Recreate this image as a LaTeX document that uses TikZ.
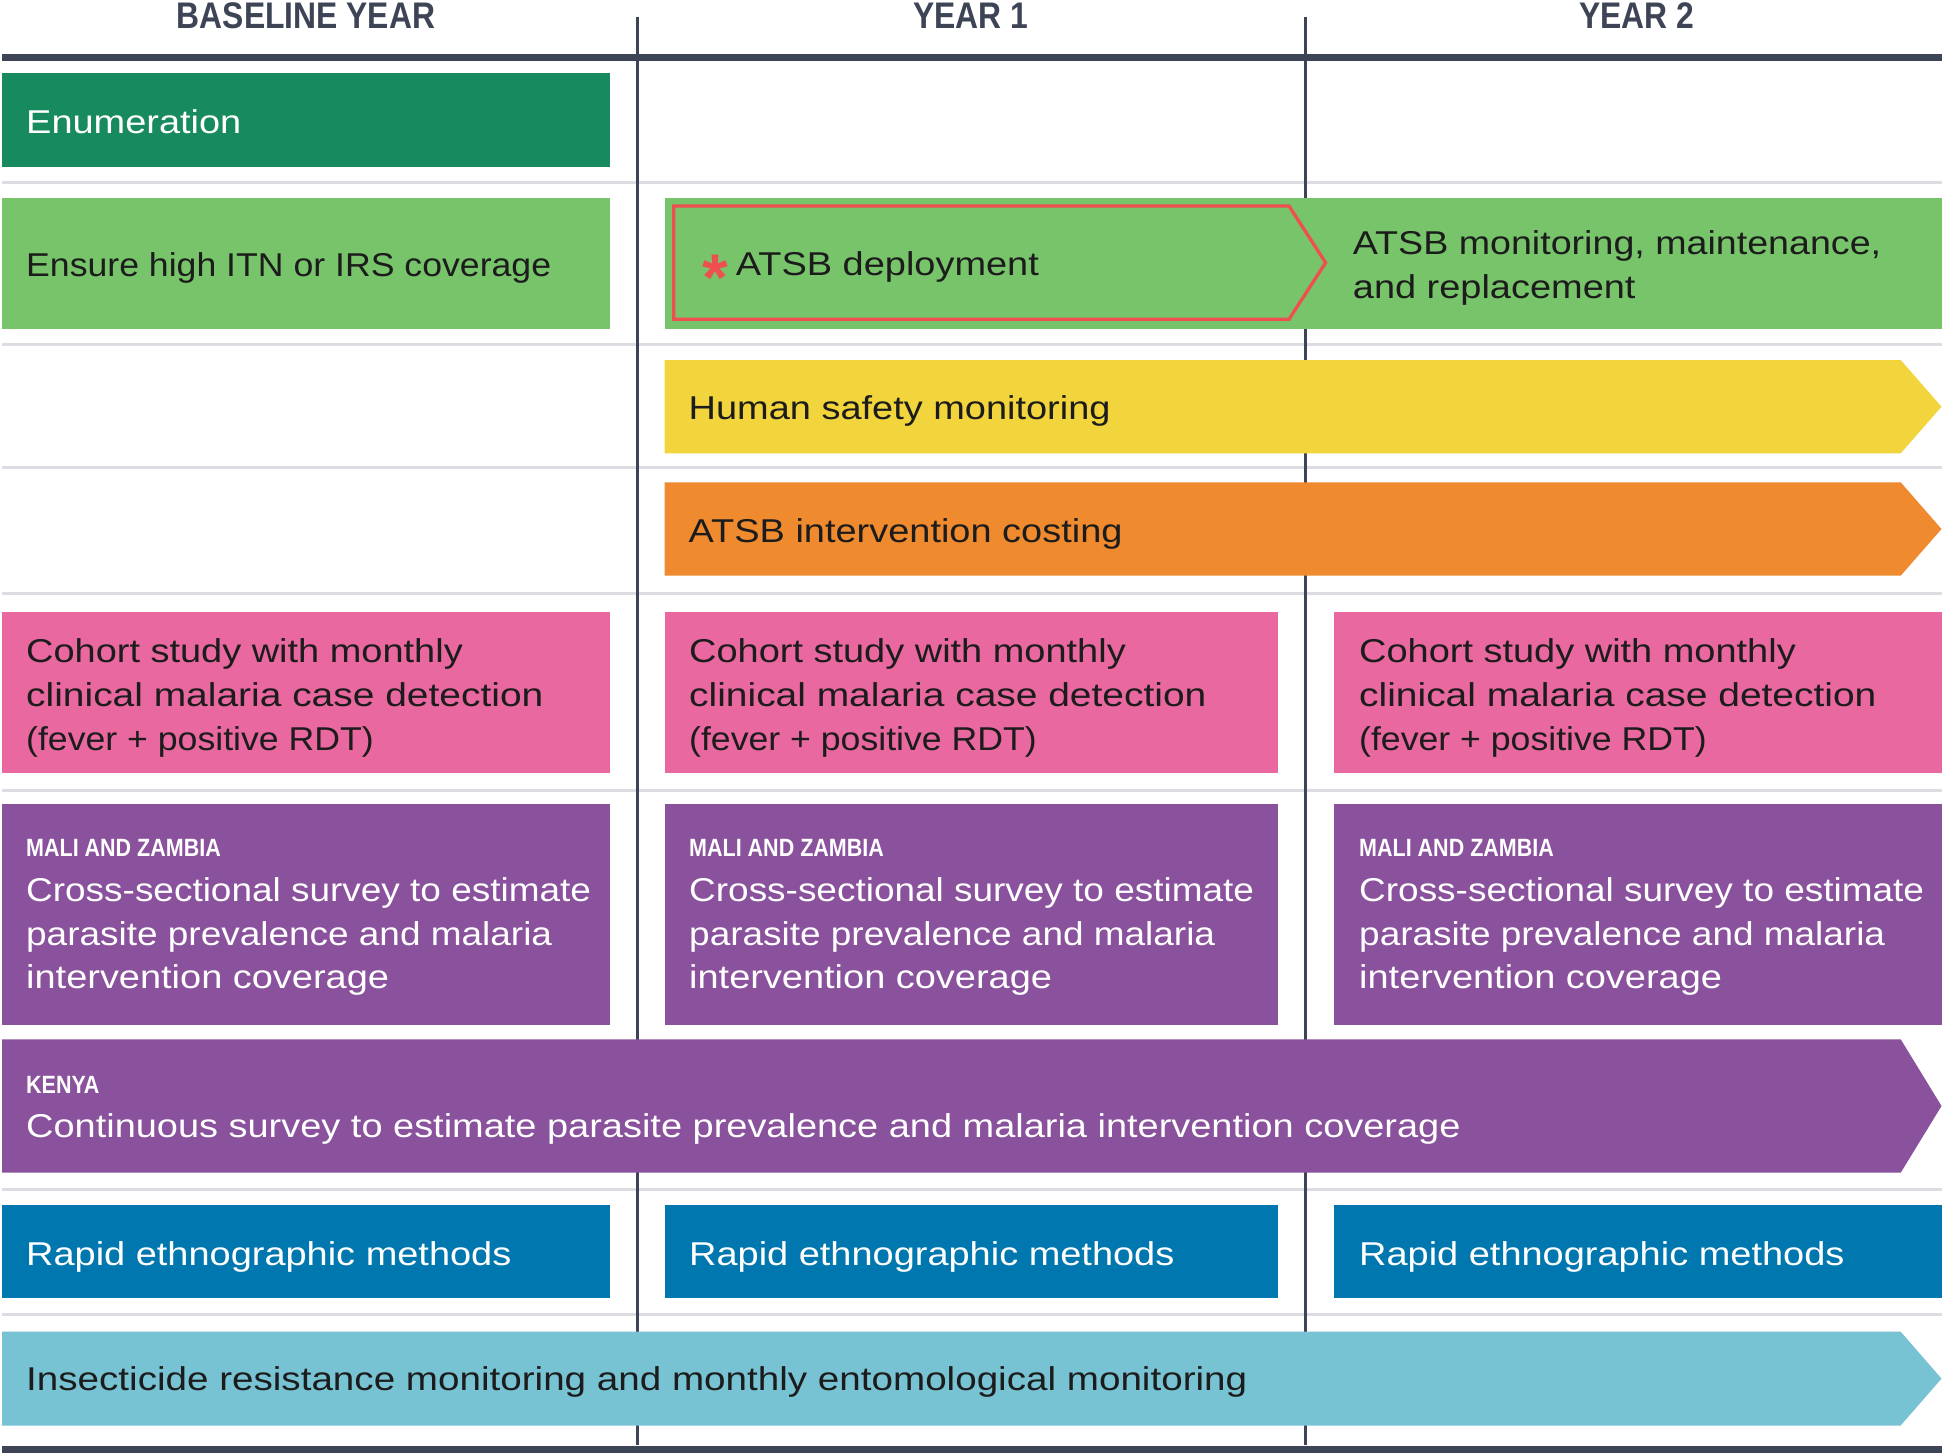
\documentclass[tikz,border=0pt]{standalone}
\usepackage{fontspec}
\setmainfont{Liberation Sans}[FakeStretch=1.15]
\newfontfamily\condfont{Liberation Sans}[FakeStretch=0.86]
\newfontfamily\plainfont{Liberation Sans}
\newfontfamily\fontN{Liberation Sans}[FakeStretch=1.08]
\newfontfamily\fontM{Liberation Sans}[FakeStretch=1.12]
\newfontfamily\fontS{Liberation Sans}[FakeStretch=1.14]
\newfontfamily\fontV{Liberation Sans}[FakeStretch=1.17]
\newfontfamily\fontW{Liberation Sans}[FakeStretch=1.18]
\definecolor{slate}{HTML}{3D4456}
\definecolor{sepgray}{HTML}{DCDDE2}
\definecolor{ink}{HTML}{1C1C1C}
\definecolor{dgreen}{HTML}{178A5E}
\definecolor{lgreen}{HTML}{78C46A}
\definecolor{atsbred}{HTML}{F04F50}
\definecolor{yel}{HTML}{F2D53C}
\definecolor{orng}{HTML}{F08A2F}
\definecolor{pink}{HTML}{E8689F}
\definecolor{purp}{HTML}{8A519C}
\definecolor{blu}{HTML}{0077AE}
\definecolor{lblu}{HTML}{78C3D3}
\newcommand\bodyfont{\fontsize{33}{44}\selectfont}
\newcommand\smallfont{\condfont\bfseries\fontsize{25}{28}\selectfont}
\begin{document}
\begin{tikzpicture}[x=1pt,y=-1pt,
  txt/.style={anchor=base west, inner sep=0pt, font=\bodyfont, text=ink},
  wtxt/.style={txt, text=white},
  smalltxt/.style={anchor=base west, inner sep=0pt, font=\smallfont, text=white},
  head/.style={anchor=base, inner sep=0pt, font=\condfont\bfseries\fontsize{37}{37}\selectfont, text=slate},
  sepline/.style={draw=sepgray, line width=3pt},
  vline/.style={draw=slate, line width=2.5pt},
  hline/.style={draw=slate, line width=7pt},
]
\useasboundingbox (0,0) rectangle (1944,1456);
\fill[white] (0,0) rectangle (1944,1456);

% separators
\foreach \yy in {182,344.3,467.3,593.3,790,1189,1314.3}
  \draw[sepline] (2,\yy) -- (1942,\yy);

% column dividers
\draw[vline] (637.5,16.7) -- (637.5,1445);
\draw[vline] (1305.5,16.7) -- (1305.5,1445);

% header and footer rules
\draw[hline] (2,57) -- (1942,57);
\draw[hline] (2,1449) -- (1942,1449);

% headers
\node[head] (h0) at (306,28.5) {BASELINE YEAR};
\node[head] (h1) at (971,28.5) {YEAR 1};
\node[head] (h2) at (1637,28.5) {YEAR 2};

% Enumeration
\fill[dgreen] (2.2,72.7) rectangle (609.5,166.7);
\node[wtxt] (enum) at (26,133) {Enumeration};

% ITN / ATSB row
\fill[lgreen] (2.2,197.5) rectangle (609.5,328.5);
\node[txt, font={\fontN\bodyfont}] (itn) at (26,276) {Ensure high ITN or IRS coverage};
\fill[lgreen] (664.5,197.5) rectangle (1941.5,328.5);
\draw[atsbred, line width=3.3pt, line join=miter]
  (673.7,206) -- (1289,206) -- (1325.6,262.7) -- (1289,319.3) -- (673.7,319.3) -- cycle;
\node[anchor=base west, inner sep=0pt, text=atsbred, font=\plainfont\bfseries\fontsize{66}{66}\selectfont] (star) at (702,300) {*};
\node[txt] (deploy) at (735.7,275) {ATSB deployment};
\node[txt, font={\fontS\bodyfont}] (mon1) at (1352.7,254.5) {ATSB monitoring, maintenance,};
\node[txt] (mon2) at (1352.7,298.5) {and replacement};

% Human safety monitoring
\fill[yel] (664.5,360) -- (1900.7,360) -- (1941.5,406.7) -- (1900.7,453.3) -- (664.5,453.3) -- cycle;
\node[txt] (safety) at (688.5,419.5) {Human safety monitoring};

% Costing
\fill[orng] (664.5,482.3) -- (1900.7,482.3) -- (1941.5,529) -- (1900.7,575.7) -- (664.5,575.7) -- cycle;
\node[txt] (cost) at (688.5,542) {ATSB intervention costing};

% Cohort, cross-sectional and ethnographic boxes per column
\foreach \bx/\ex/\tx/\n in {2.2/609.5/26/a, 664.5/1277.5/689/b, 1334/1941.5/1359/c}{
  \fill[pink] (\bx,611.7) rectangle (\ex,773.3);
  \node[txt] (coh\n1) at (\tx,662) {Cohort study with monthly};
  \node[txt, font={\fontW\bodyfont}] (coh\n2) at (\tx,706) {clinical malaria case detection};
  \node[txt, font={\fontN\bodyfont}] (coh\n3) at (\tx,750) {(fever + positive RDT)};
  \fill[purp] (\bx,804.3) rectangle (\ex,1025);
  \node[smalltxt] (mz\n) at (\tx,856.7) {MALI AND ZAMBIA};
  \node[wtxt, font={\fontM\bodyfont}] (cs\n1) at (\tx,901.7) {Cross-sectional survey to estimate};
  \node[wtxt, font={\fontM\bodyfont}] (cs\n2) at (\tx,945) {parasite prevalence and malaria};
  \node[wtxt] (cs\n3) at (\tx,988.3) {intervention coverage};
  \fill[blu] (\bx,1204.5) rectangle (\ex,1297.7);
  \node[wtxt] (rem\n) at (\tx,1265) {Rapid ethnographic methods};
}

% Kenya
\fill[purp] (2.2,1039.3) -- (1900.7,1039.3) -- (1941.5,1106) -- (1900.7,1172.7) -- (2.2,1172.7) -- cycle;
\node[smalltxt] (ken) at (26,1093) {KENYA};
\node[wtxt] (kencs) at (26,1137) {Continuous survey to estimate parasite prevalence and malaria intervention coverage};

% Entomological monitoring
\fill[lblu] (2.2,1331.7) -- (1900.7,1331.7) -- (1941.5,1378.6) -- (1900.7,1425.5) -- (2.2,1425.5) -- cycle;
\node[txt, font={\fontV\bodyfont}] (ento) at (26,1390) {Insecticide resistance monitoring and monthly entomological monitoring};
\end{tikzpicture}
\end{document}
